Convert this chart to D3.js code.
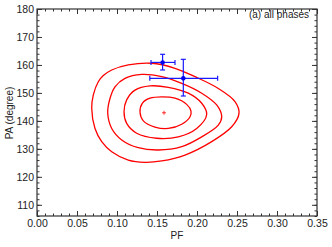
<!doctype html>
<html>
<head>
<meta charset="UTF-8">
<title>PA vs PF</title>
<script src="https://cdn.jsdelivr.net/npm/d3@7"></script>
<style>
	body { margin: 0; background: #fff; }
	svg text { font-family: "Liberation Sans", Arial, Helvetica, sans-serif; font-size: 10px; fill: #222; }
	.axis line { stroke: #333; stroke-width: 1; }
	.axis path { display: none; }
</style>
</head>
<body>
<svg width="332" height="247"></svg>
<script>
// tick values
var xTicks = [0, 0.05, 0.10, 0.15, 0.20, 0.25, 0.30, 0.35];
var yTicks = [110, 120, 130, 140, 150, 160, 170, 180];

// confidence contours, [PF, PA] (outer to inner)
var contour1 = [[0.0766,154.0],[0.0704,149.3],[0.0684,144.5],[0.0725,137.3],[0.0809,132.6],[0.0934,129.0],
	[0.1141,126.0],[0.135,125.2],[0.1559,125.7],[0.185,127.8],[0.2184,132.6],[0.2434,137.9],[0.2525,142.7],
	[0.2475,146.9],[0.2266,151.6],[0.1975,155.8],[0.1725,158.8],[0.1434,160.6],[0.1141,160.0],[0.0934,158.2],[0.0829,156.2]];
var contour2 = [[0.0913,148.1],[0.0884,142.7],[0.0934,137.3],[0.1059,133.2],[0.1266,130.4],[0.1516,129.6],
	[0.1809,130.8],[0.2059,134.3],[0.2266,138.5],[0.2309,141.5],[0.2246,145.7],[0.2059,149.9],[0.1809,153.4],
	[0.1559,155.8],[0.1309,156.6],[0.11,155.2],[0.0975,152.2]];
var contour3 = [[0.1121,147.5],[0.1088,143.3],[0.1121,139.1],[0.1246,135.6],[0.1496,133.8],[0.1766,134.3],
	[0.1996,137.3],[0.2121,142.3],[0.2059,146.3],[0.1891,149.9],[0.1641,152.0],[0.1413,152.5],[0.1225,151.0]];
var contour4 = [[0.1316,146.3],[0.1288,143.1],[0.1329,140.0],[0.1475,137.8],[0.1641,137.3],[0.1809,138.8],
	[0.1913,141.5],[0.1925,143.5],[0.1871,145.9],[0.1725,148.1],[0.1559,148.6],[0.1413,148.1]];
var bestFit = [0.1588, 142.9];

// measured points with error bars
var ptPF = [0.157, 0.1829];
var ptPA = [160.9, 155.2];
var pfLo = [0.1425, 0.141];
var pfHi = [0.1725, 0.2258];
var paLo = [158.2, 148.9];
var paHi = [163.8, 162.0];

var svg = d3.select('svg');
var pLeft = 37, pRight = 317, pTop = 9, pBottom = 216;

var x = d3.scaleLinear().domain([0, 0.35]).range([pLeft, pRight]);
var y = d3.scaleLinear().domain([106, 180]).range([pBottom, pTop]);

var xMinor = d3.range(0, 0.3501, 0.01);
var yMinor = d3.range(106, 180.1, 2);

// minor ticks
svg.append('g').attr('class', 'axis').attr('transform', 'translate(0,' + pBottom + ')')
	.call(d3.axisBottom(x).tickValues(xMinor).tickSize(-2.5).tickFormat(''));
svg.append('g').attr('class', 'axis').attr('transform', 'translate(0,' + pTop + ')')
	.call(d3.axisTop(x).tickValues(xMinor).tickSize(-2.5).tickFormat(''));
svg.append('g').attr('class', 'axis').attr('transform', 'translate(' + pLeft + ',0)')
	.call(d3.axisLeft(y).tickValues(yMinor).tickSize(-2.5).tickFormat(''));
svg.append('g').attr('class', 'axis').attr('transform', 'translate(' + pRight + ',0)')
	.call(d3.axisRight(y).tickValues(yMinor).tickSize(-2.5).tickFormat(''));

// major ticks
svg.append('g').attr('class', 'axis').attr('transform', 'translate(0,' + pBottom + ')')
	.call(d3.axisBottom(x).tickValues(xTicks).tickSize(-5).tickPadding(4).tickFormat(d3.format('.2f')));
svg.append('g').attr('class', 'axis').attr('transform', 'translate(0,' + pTop + ')')
	.call(d3.axisTop(x).tickValues(xTicks).tickSize(-5).tickFormat(''));
svg.append('g').attr('class', 'axis').attr('transform', 'translate(' + pLeft + ',0)')
	.call(d3.axisLeft(y).tickValues(yTicks).tickSize(-5).tickPadding(3).tickFormat(d3.format('d')));
svg.append('g').attr('class', 'axis').attr('transform', 'translate(' + pRight + ',0)')
	.call(d3.axisRight(y).tickValues(yTicks).tickSize(-5).tickFormat(''));

svg.selectAll('.axis text').attr('fill', '#222').style('font-size', '10.5px');

// frame
svg.append('rect')
	.attr('x', pLeft).attr('y', pTop)
	.attr('width', pRight - pLeft).attr('height', pBottom - pTop)
	.attr('fill', 'none').attr('stroke', '#333').attr('stroke-width', 1.2);

// contours
var line = d3.line()
	.x(function(d) { return x(d[0]); })
	.y(function(d) { return y(d[1]); })
	.curve(d3.curveCatmullRomClosed.alpha(0.5));

svg.selectAll('path.contour')
	.data([contour1, contour2, contour3, contour4])
	.enter().append('path')
	.attr('class', 'contour')
	.attr('d', line)
	.attr('fill', 'none')
	.attr('stroke', '#ff0000')
	.attr('stroke-width', 1.3);

// best fit cross
var bx = x(bestFit[0]), by = y(bestFit[1]);
svg.append('path')
	.attr('d', 'M' + (bx - 2) + ',' + by + 'H' + (bx + 2) + 'M' + bx + ',' + (by - 2) + 'V' + (by + 2))
	.attr('stroke', '#ff0000').attr('stroke-width', 0.8);

// error bars
var eb = svg.append('g').attr('stroke', '#1a1aff').attr('stroke-width', 1.2);
ptPF.forEach(function(pf, i) {
	var cx = x(pf), cy = y(ptPA[i]);
	var x0 = x(pfLo[i]), x1 = x(pfHi[i]), y0 = y(paLo[i]), y1 = y(paHi[i]);
	eb.append('line').attr('x1', x0).attr('x2', x1).attr('y1', cy).attr('y2', cy);
	eb.append('line').attr('x1', x0).attr('x2', x0).attr('y1', cy - 2.5).attr('y2', cy + 2.5);
	eb.append('line').attr('x1', x1).attr('x2', x1).attr('y1', cy - 2.5).attr('y2', cy + 2.5);
	eb.append('line').attr('x1', cx).attr('x2', cx).attr('y1', y0).attr('y2', y1);
	eb.append('line').attr('x1', cx - 2.5).attr('x2', cx + 2.5).attr('y1', y0).attr('y2', y0);
	eb.append('line').attr('x1', cx - 2.5).attr('x2', cx + 2.5).attr('y1', y1).attr('y2', y1);
	svg.append('circle').attr('cx', cx).attr('cy', cy).attr('r', 2.3).attr('fill', '#0000ee');
});

// labels
svg.append('text').attr('x', 309).attr('y', 18).attr('text-anchor', 'end').text('(a) all phases');
svg.append('text').attr('x', 177).attr('y', 239).attr('text-anchor', 'middle').text('PF');
svg.append('text')
	.attr('transform', 'translate(13,113) rotate(-90)')
	.attr('text-anchor', 'middle')
	.text('PA (degree)');
</script>
</body>
</html>
